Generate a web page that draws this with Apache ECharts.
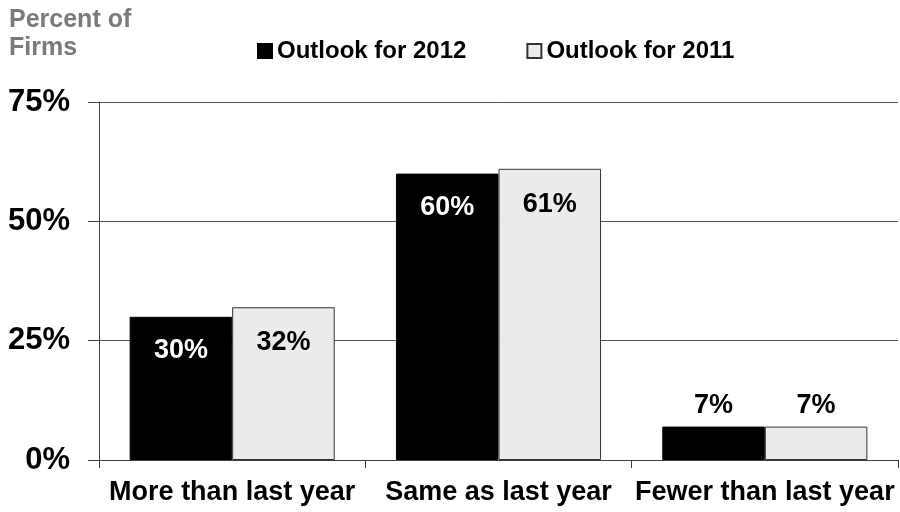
<!DOCTYPE html>
<html><head><meta charset="utf-8">
<script src="https://cdn.jsdelivr.net/npm/echarts@6/dist/echarts.min.js"></script>
<style>html,body{margin:0;padding:0;background:#fff}#c{width:900px;height:512px}</style>
</head><body><div id="c"></div>
<script>
const categories = ['More than last year', 'Same as last year', 'Fewer than last year'];
const outlook2012 = [30, 60, 7];
const outlook2011 = [32, 61, 7];
const seriesNames = ['Outlook for 2012', 'Outlook for 2011'];
const yTicks = [0, 25, 50, 75];

const chart = echarts.init(document.getElementById('c'), null, {renderer: 'canvas'});
const FONT = 'Liberation Sans, Arial, sans-serif';
function lbl(v, dark) {
  return v >= 20 ? {show: true, position: 'insideTop', distance: dark ? 20 : 22, color: dark ? '#fff' : '#000'}
                 : {show: true, position: 'top', distance: 8, color: '#000'};
}
chart.setOption({
  animation: false,
  textStyle: {fontFamily: FONT},
  title: {text: 'Percent of\nFirms', left: 4, top: 1,
    textStyle: {fontFamily: FONT, fontWeight: 'bold', fontSize: 25, color: '#7a7a7a', lineHeight: 28}},
  legend: {left: 252, top: 34, itemWidth: 14, itemHeight: 14, itemGap: 60,
    textStyle: {fontFamily: FONT, fontWeight: 'bold', fontSize: 24, color: '#000'},
    data: [{name: seriesNames[0], icon: 'rect'}, {name: seriesNames[1], icon: 'rect'}]},
  grid: {left: 99, right: 2, top: 102, bottom: 52},
  xAxis: {type: 'category', data: categories,
    axisLine: {lineStyle: {color: '#404040', width: 1}},
    axisTick: {show: true, length: 8, lineStyle: {color: '#404040'}},
    axisLabel: {interval: 0, margin: 19, fontFamily: FONT, fontWeight: 'bold', fontSize: 27, color: '#000'}},
  yAxis: {type: 'value', min: 0, max: 75, interval: 25,
    axisLine: {show: true, lineStyle: {color: '#404040', width: 1}},
    axisTick: {show: true, length: 11, lineStyle: {color: '#404040'}},
    splitLine: {show: true, lineStyle: {color: '#505050', width: 1}},
    axisLabel: {margin: 29, fontFamily: FONT, fontWeight: 'bold', fontSize: 31, color: '#000',
      formatter: v => yTicks.includes(v) ? v + '%' : ''}},
  series: [
    {name: seriesNames[0], type: 'bar', barGap: '0%', barCategoryGap: '23%',
     itemStyle: {color: '#000', borderColor: '#000', borderWidth: 1},
     label: {fontFamily: FONT, fontWeight: 'bold', fontSize: 27, formatter: '{c}%'},
     data: outlook2012.map(v => ({value: v, label: lbl(v, true)}))},
    {name: seriesNames[1], type: 'bar',
     itemStyle: {color: '#ebebeb', borderColor: '#333', borderWidth: 1},
     label: {fontFamily: FONT, fontWeight: 'bold', fontSize: 27, formatter: '{c}%'},
     data: outlook2011.map(v => ({value: v, label: lbl(v, false)}))}
  ]
});
</script></body></html>
